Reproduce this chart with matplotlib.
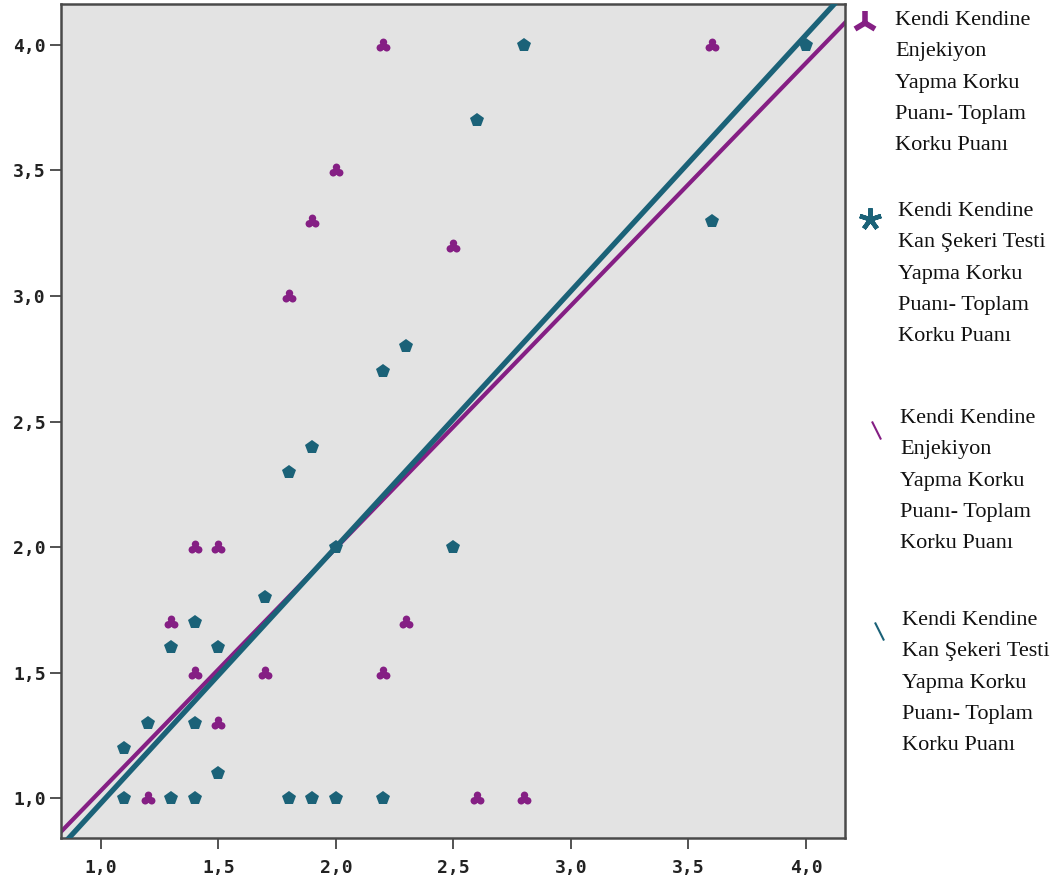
import numpy as np
import matplotlib
matplotlib.use("Agg")
import matplotlib.pyplot as plt
from matplotlib.path import Path
from matplotlib.lines import Line2D

# data
# purple series: Kendi Kendine Enjekiyon Yapma Korku Puani vs Toplam
enj_x = [2.2, 3.6, 2.0, 1.9, 2.5, 1.8, 1.4, 1.5, 1.3, 2.3, 1.4, 1.7, 2.2, 1.5,
         1.2, 2.6, 2.8]
enj_y = [4.0, 4.0, 3.5, 3.3, 3.2, 3.0, 2.0, 2.0, 1.7, 1.7, 1.5, 1.5, 1.5, 1.3,
         1.0, 1.0, 1.0]
# teal series: Kendi Kendine Kan Sekeri Testi Yapma Korku Puani vs Toplam
kan_x = [2.8, 4.0, 2.6, 3.6, 2.3, 2.2, 1.9, 1.8, 2.0, 2.5, 1.7, 1.4, 1.3, 1.5,
         1.2, 1.4, 1.1, 1.5, 1.1, 1.3, 1.4, 1.8, 1.9, 2.0, 2.2]
kan_y = [4.0, 4.0, 3.7, 3.3, 2.8, 2.7, 2.4, 2.3, 2.0, 2.0, 1.8, 1.7, 1.6, 1.6,
         1.3, 1.3, 1.2, 1.1, 1.0, 1.0, 1.0, 1.0, 1.0, 1.0, 1.0]
# fit lines (slope, intercept)
enj_fit = [0.966, 0.064]
kan_fit = [1.02, -0.04]

ticks = [1.0, 1.5, 2.0, 2.5, 3.0, 3.5, 4.0]
tick_labels = ["1,0", "1,5", "2,0", "2,5", "3,0", "3,5", "4,0"]

lab_enj = "Kendi Kendine\nEnjekiyon\nYapma Korku\nPuanı- Toplam\nKorku Puanı"
lab_kan = "Kendi Kendine\nKan Şekeri Testi\nYapma Korku\nPuanı- Toplam\nKorku Puanı"

purple = "#851f84"
teal = "#1b6278"

# trefoil marker: three overlapping circles plus a filled centre
circles = [Path.circle((0, 0.42), 0.48), Path.circle((-0.42, -0.3), 0.48),
           Path.circle((0.42, -0.3), 0.48), Path.circle((0, -0.05), 0.4)]
trefoil = Path.make_compound_path(*circles)
slash = Path([(-0.5, 1), (0.5, -1)], [Path.MOVETO, Path.LINETO])

W, H = 1064, 886
fig = plt.figure(figsize=(W / 100, H / 100), dpi=100)
ax = fig.add_axes([61 / W, 1 - 838 / H, (845 - 61) / W, (838 - 4) / H])
ax.set_facecolor("#e3e3e3")

xs = np.array([0.83, 4.17])
ax.plot(xs, enj_fit[0] * xs + enj_fit[1], color=purple, lw=3.0, zorder=2)
ax.plot(xs, kan_fit[0] * xs + kan_fit[1], color=teal, lw=3.8, zorder=3)

ax.plot(enj_x, enj_y, linestyle="none", marker=trefoil, markersize=10,
        color=purple, markeredgewidth=0, zorder=4)
ax.plot(kan_x, kan_y, linestyle="none", marker="p", markersize=10,
        color=teal, markeredgewidth=0, zorder=5)

ax.set_xlim(0.83, 4.166)
ax.set_ylim(0.841, 4.163)
ax.set_xticks(ticks)
ax.set_xticklabels(tick_labels)
ax.set_yticks(ticks)
ax.set_yticklabels(tick_labels)
for lbl in ax.get_xticklabels() + ax.get_yticklabels():
    lbl.set_fontfamily("DejaVu Sans Mono")
    lbl.set_fontweight("bold")
    lbl.set_fontsize(13)
    lbl.set_color("#222222")
ax.tick_params(axis="both", direction="out", length=8, width=1.3,
               color="#444444")
ax.tick_params(axis="x", pad=7)
ax.tick_params(axis="y", pad=3)
for s in ax.spines.values():
    s.set_color("#4a4a4a")
    s.set_linewidth(1.8)

# legend drawn by hand so multi-line labels line up like the original
entries = [
    ("tri", purple, lab_enj, 865, 23, 895, 11),
    ("star", teal, lab_kan, 870, 219, 898, 202),
    ("line", purple, lab_enj, 876, 430, 900, 409),
    ("line", teal, lab_kan, 879, 631, 902, 611),
]
for kind, col, lab, mx, my, tx, ty in entries:
    pos = ([mx / W], [1 - my / H])
    if kind == "tri":
        h = Line2D(*pos, marker="2", markersize=18, markeredgewidth=4,
                   color=col, transform=fig.transFigure)
    elif kind == "line":
        h = Line2D(*pos, marker=slash, markersize=13, markeredgewidth=1.5,
                   color=col, transform=fig.transFigure)
    else:
        h = Line2D(*pos, marker=(5, 2, 0), markersize=16, markeredgewidth=3.2,
                   color=col, transform=fig.transFigure)
    fig.add_artist(h)
    fig.text(tx / W, 1 - ty / H, lab, family="Liberation Serif", fontsize=16,
             va="top", ha="left", linespacing=1.88, color="#111111")

fig.savefig("out.png", dpi=100)
